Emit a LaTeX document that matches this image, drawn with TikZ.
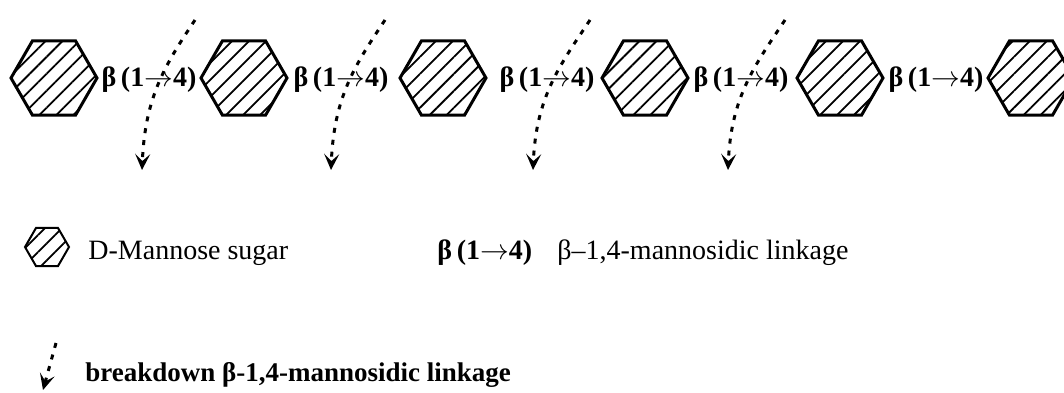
\documentclass[tikz,border=0pt]{standalone}
\usepackage{fontspec}
\setmainfont{Liberation Serif}
\usetikzlibrary{shapes.geometric,arrows.meta,patterns.meta}

\begin{document}
\begin{tikzpicture}[x=0.5pt, y=-0.5pt,
    sugar/.style={regular polygon, regular polygon sides=6, shape border rotate=0,
        minimum size=43pt, inner sep=0pt, draw=black, line width=1.5pt,
        pattern={Lines[angle=45,distance=6pt,line width=0.9pt]}},
    link/.style={font=\fontsize{14}{16}\selectfont\bfseries, inner sep=0pt},
    cut/.style={line width=1.5pt, dash pattern=on 2.5pt off 3.5pt,
        -{Stealth[length=8pt,width=7.5pt,inset=3.5pt]}},
    legend/.style={font=\fontsize{14}{16}\selectfont, anchor=west, inner sep=0pt}]
    \useasboundingbox (0,0) rectangle (1064,392);

    % Chaine de mannoses
    \foreach \i/\x in {1/54, 2/244, 3/443, 4/645, 5/840, 6/1031}
        \node[sugar] (hex\i) at (\x,78) {};

    % Liaisons beta(1->4)
    \foreach \i/\x in {1/149, 2/341, 3/547, 4/741, 5/936}
        \node[link] (link\i) at (\x,80) {β\,(1$\rightarrow$4)};

    % Coupures des liaisons
    \foreach \i/\xs/\xe in {1/195/142, 2/385/331, 3/590/533, 4/785/728}{
        \coordinate (brktop\i) at (\xs,20);
        \coordinate (brktip\i) at (\xe,170);
        \draw[cut] (brktop\i) .. controls +(-30,45) and +(3,-73) .. (brktip\i);
    }

    % Legende
    \node[sugar, minimum size=22pt, line width=1pt] (keyhex) at (47,247) {};
    \node[legend] (keysugar) at (88,253) {D-Mannose sugar};
    \node[legend, font=\fontsize{14}{16}\selectfont\bfseries] (keylink) at (437,253) {β\,(1$\rightarrow$4)};
    \node[legend] (keylinkname) at (557,253) {β–1,4-mannosidic linkage};

    \coordinate (keytop) at (56,343);
    \coordinate (keytip) at (43,390);
    \draw[cut] (keytop) -- (keytip);
    \node[legend, font=\fontsize{13.5}{16}\selectfont\bfseries] (keybreak) at (85,375)
        {breakdown β-1,4-mannosidic linkage};
\end{tikzpicture}
\end{document}
